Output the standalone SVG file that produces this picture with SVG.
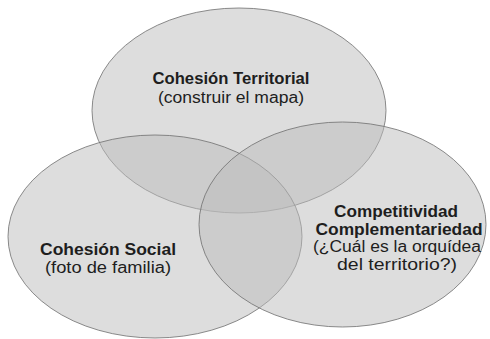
<svg xmlns="http://www.w3.org/2000/svg" width="490" height="339" viewBox="0 0 490 339">
<style>
.c{fill:#bbbbbb;fill-opacity:0.5;stroke:#6e6e6e;stroke-width:0.8}
.b{font-family:"Liberation Sans",Arial,sans-serif;font-weight:bold;font-size:16px;fill:#1e1e1e;text-anchor:middle}
.n{font-family:"Liberation Sans",Arial,sans-serif;font-size:16px;fill:#1e1e1e;text-anchor:middle}
</style>
<rect width="490" height="339" fill="#ffffff"/>
<g id="territorial"><ellipse class="c" cx="239" cy="110.5" rx="147" ry="102.5"/></g>
<g id="social"><ellipse class="c" cx="155" cy="236.5" rx="147" ry="101.5"/></g>
<g id="competitividad"><ellipse class="c" cx="342.5" cy="224.5" rx="143.5" ry="102.5"/></g>
<g id="labels">
<text class="b" x="231" y="84" textLength="157" lengthAdjust="spacingAndGlyphs">Cohesión Territorial</text>
<text class="n" x="231" y="103" textLength="146" lengthAdjust="spacingAndGlyphs">(construir el mapa)</text>
<text class="b" x="108" y="255" textLength="136" lengthAdjust="spacingAndGlyphs">Cohesión Social</text>
<text class="n" x="108" y="273" textLength="126" lengthAdjust="spacingAndGlyphs">(foto de familia)</text>
<text class="b" x="396" y="217" textLength="124" lengthAdjust="spacingAndGlyphs">Competitividad</text>
<text class="b" x="399" y="235" textLength="167" lengthAdjust="spacingAndGlyphs">Complementariedad</text>
<text class="n" x="397" y="252" textLength="168" lengthAdjust="spacingAndGlyphs">(¿Cuál es la orquídea</text>
<text class="n" x="397" y="270" textLength="120" lengthAdjust="spacingAndGlyphs">del territorio?)</text>
</g>
</svg>
